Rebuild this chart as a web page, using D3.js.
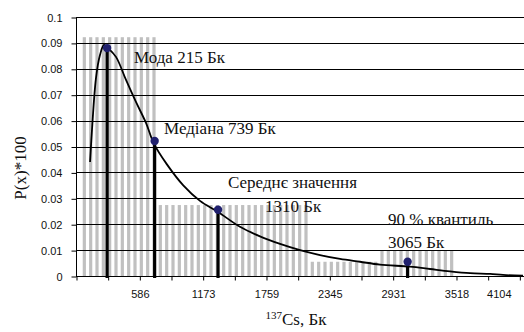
<!DOCTYPE html>
<html><head><meta charset="utf-8">
<script src="https://cdn.jsdelivr.net/npm/d3@7"></script>
<style>
html,body{margin:0;padding:0;background:#fff;}
svg{display:block;}
</style></head>
<body>
<svg id="chart" width="524" height="332"></svg>
<script>
// ---------- data ----------
const xMax = 4104;                       // last axis value (Бк)
const nCategories = 70;                  // histogram stripes across the axis
const xTickLabels = ["586","1173","1759","2345","2931","3518","4104"];
const yTicks = [0,0.01,0.02,0.03,0.04,0.05,0.06,0.07,0.08,0.09,0.1];
const yTickLabels = ["0","0.01","0.02","0.03","0.04","0.05","0.06","0.07","0.08","0.09","0.1"];
// histogram bins (category index ranges) and their heights
const binFirst  = [1, 13, 37, 48];
const binLast   = [12, 36, 47, 59];
const binHeight = [0.0922, 0.0274, 0.0055, 0.0100];
// density curve P(x)*100
const curveX = [130,148,185,222,259,296,370,463,555,648,722,840,993,1148,1312,1518,1703,1889,2074,2259,2444,2629,2814,3092,3277,3462,3648,3833,3953,4138];
const curveY = [0.0440,0.0564,0.0764,0.0853,0.0892,0.0880,0.0846,0.0757,0.0672,0.0591,0.0510,0.0432,0.0350,0.0290,0.0248,0.0190,0.0153,0.0124,0.0100,0.0081,0.0066,0.0055,0.0044,0.0036,0.0027,0.0018,0.0011,0.0008,0.0004,0.0001];
// marked statistics
const statNames  = ["Мода 215 Бк","Медіана 739 Бк","Середнє значення","1310 Бк","90 % квантиль","3065 Бк"];
const statX = [288, 728, 1315, 3070];
const statY = [0.0880, 0.0521, 0.0256, 0.0055];

// ---------- layout ----------
const svg = d3.select("#chart");
const pLeft = 76, pRight = 519.33, pTop = 17, pBottom = 276;
const x = d3.scaleLinear().domain([0, xMax]).range([pLeft, pRight]);
const y = d3.scaleLinear().domain([0, 0.1]).range([pBottom, pTop]);
const step = xMax / nCategories;

svg.append("rect").attr("width",524).attr("height",332).attr("fill","#fff");

// bars (vertical stripes)
const bars = [];
binFirst.forEach((f,k)=>{ for(let j=f;j<=binLast[k];j++) bars.push({j, v:binHeight[k]}); });
svg.append("g").selectAll("rect").data(bars).enter().append("rect")
  .attr("x", d => x(d.j*step) + 0.4)
  .attr("width", 3.2)
  .attr("y", d => y(d.v))
  .attr("height", d => y(0) - y(d.v))
  .attr("fill", "#c0c0c0");

// gridlines
svg.append("g").selectAll("line").data(yTicks.slice(1)).enter().append("line")
  .attr("x1", pLeft).attr("x2", 524)
  .attr("y1", d => Math.round(y(d))+0.5).attr("y2", d => Math.round(y(d))+0.5)
  .attr("stroke", "#000").attr("stroke-width", 1);

// y axis
const yAxis = d3.axisLeft(y).tickValues(yTicks).tickSize(5).tickPadding(9)
  .tickFormat((d,i)=>yTickLabels[i]);
const gy = svg.append("g").attr("transform",`translate(${pLeft+0.5},0.5)`).call(yAxis);
gy.select(".domain").attr("d", `M0,${pTop-0.5}V${pBottom-0.5}`).attr("stroke","#000");
gy.selectAll("text").attr("font-family","'Liberation Sans', Arial, sans-serif").attr("font-size",11).attr("fill","#111");

// x axis
const xTickVals = d3.range(15).map(i => i*5*step);
const xAxis = d3.axisBottom(x).tickValues(xTickVals).tickSize(4).tickPadding(10)
  .tickFormat((d,i)=> (i>0 && i%2===0) ? xTickLabels[i/2-1] : "");
const gx = svg.append("g").attr("transform",`translate(0.5,${pBottom+0.5})`).call(xAxis);
gx.select(".domain").attr("d", `M${pLeft-0.5},0H524`).attr("stroke","#000");
gx.selectAll("text").attr("font-family","'Liberation Sans', Arial, sans-serif").attr("font-size",11).attr("fill","#111");
gx.selectAll(".tick").filter((d,i)=>i===14).select("text").attr("dx",-21);

// curve
const pts = curveX.map((v,i)=>[v, curveY[i]]);
const line = d3.line().x(d=>x(d[0])).y(d=>y(d[1])).curve(d3.curveCatmullRom);
svg.append("path").attr("d", line(pts)).attr("fill","none").attr("stroke","#000").attr("stroke-width",1.8);

// stat verticals and dots
svg.append("g").selectAll("line").data(statX).enter().append("line")
  .attr("x1", d=>x(d)).attr("x2", d=>x(d))
  .attr("y1", (d,i)=>y(statY[i])).attr("y2", y(0)+2)
  .attr("stroke","#000").attr("stroke-width",3.2);
svg.append("g").selectAll("circle").data(statX).enter().append("circle")
  .attr("cx", d=>x(d)).attr("cy",(d,i)=>y(statY[i])).attr("r",4.2)
  .attr("fill","#20206e");

// annotations
const annPos = [[134,63],[164,134],[228,188],[265,212],[388,225],[388,248]];
svg.append("g").selectAll("text").data(statNames).enter().append("text")
  .attr("x",(d,i)=>annPos[i][0]).attr("y",(d,i)=>annPos[i][1])
  .attr("font-family","'Liberation Serif','Times New Roman',serif").attr("font-size",17)
  .attr("fill","#111").text(d=>d);

// axis titles
const xt = svg.append("text").attr("x",296).attr("y",325).attr("text-anchor","middle")
  .attr("font-family","'Liberation Serif','Times New Roman',serif").attr("font-size",17).attr("fill","#111");
xt.append("tspan").attr("font-size",11).attr("dy",-6).text("137");
xt.append("tspan").attr("dy",6).text("Cs, Бк");
svg.append("text").attr("transform","translate(26,168) rotate(-90)").attr("text-anchor","middle")
  .attr("font-family","'Liberation Serif','Times New Roman',serif").attr("font-size",17).attr("fill","#111")
  .text("P(x)*100");
</script>
</body></html>
